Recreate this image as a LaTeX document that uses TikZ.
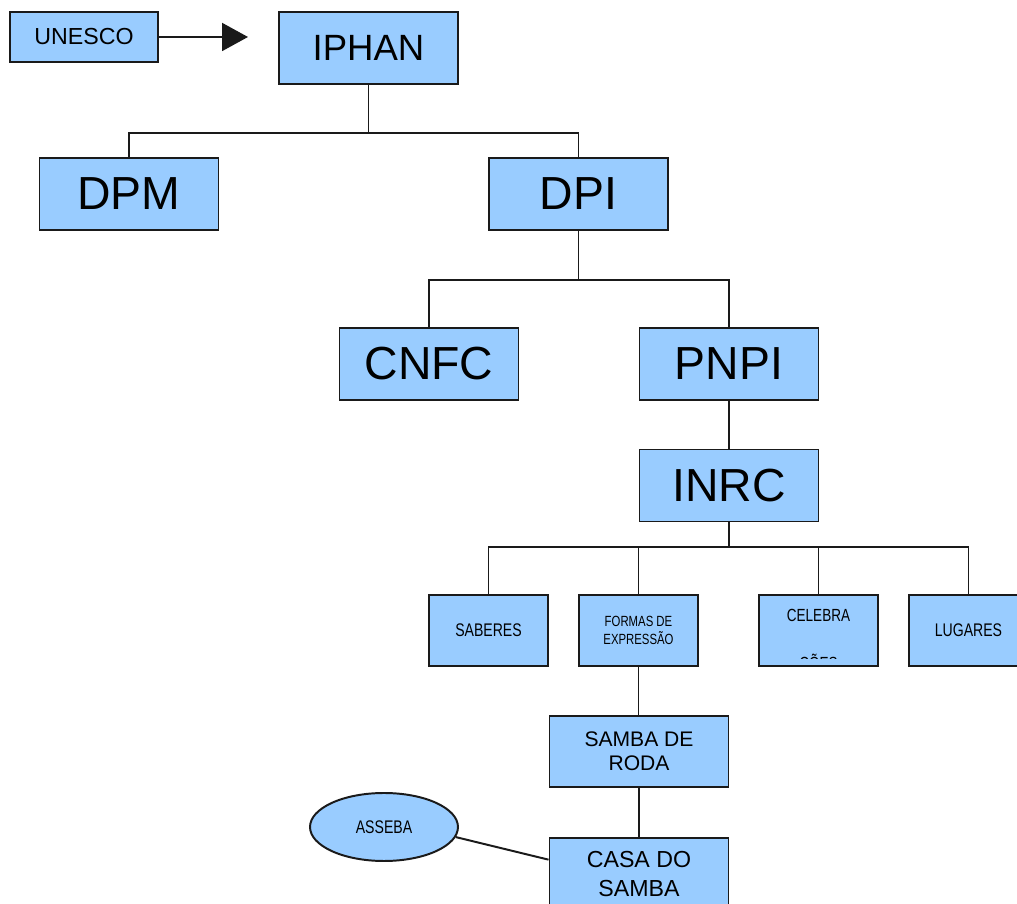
\documentclass[tikz,border=0pt]{standalone}
\usepackage{fontspec}
\setmainfont{Liberation Sans}
\newfontfamily\narrowfont[FakeStretch=0.77]{Liberation Sans}
\usepackage{tikz}
\usetikzlibrary{arrows.meta,shapes.geometric}
\definecolor{boxblue}{RGB}{153,204,255}
\definecolor{boxline}{RGB}{26,26,26}

\begin{document}
\begin{tikzpicture}[line width=1.4pt]
  \tikzstyle{unit}=[rectangle, draw=boxline, fill=boxblue, inner sep=0pt,
minimum width=4.475cm, minimum height=1.8cm, font=\fontsize{33}{40}\selectfont]
  \tikzstyle{subunit}=[unit, minimum width=2.975cm, minimum height=1.775cm,
font=\narrowfont\fontsize{13}{15}\selectfont]
  \tikzstyle{link}=[draw=boxline]
  \useasboundingbox (0,0) rectangle (25.425,22.6);

  \node[unit, minimum width=3.7cm, minimum height=1.25cm,
    font=\fontsize{16.5}{19}\selectfont] (UNESCO) at (2.1,21.675) {UNESCO};
  \coordinate (U_end) at (6.2,21.675);
  \draw[link, -{Triangle[length=0.65cm,width=0.7cm]}] (UNESCO) -- (U_end);

  \node[unit, font=\fontsize{26}{31}\selectfont] (IPHAN) at (9.2125,21.4) {IPHAN};
  \node[unit] (DPM) at (3.225,17.75) {DPM};
  \node[unit] (DPI) at (14.4625,17.75) {DPI};
  \coordinate (bus_1) at (9.2125,19.275);
  \draw[link] (IPHAN) -- (bus_1);
  \draw[link] (DPM.north) |- (bus_1) -| (DPI.north);

  \node[unit] (CNFC) at (10.725,13.5) {CNFC};
  \node[unit] (PNPI) at (18.225,13.5) {PNPI};
  \coordinate (bus_2) at (14.4625,15.6);
  \draw[link] (DPI) -- (bus_2);
  \draw[link] (CNFC.north) |- (bus_2) -| (PNPI.north);

  \node[unit] (INRC) at (18.225,10.4625) {INRC};
  \draw[link] (PNPI) -- (INRC);

  \node[subunit] (SAB) at (12.2125,6.8375) {SABERES};
  \node[subunit, align=center, font=\narrowfont\fontsize{10.5}{12.8}\selectfont]
    (FORM) at (15.9625,6.8375) {FORMAS DE\\EXPRESSÃO};
  \node[subunit] (CEL) at (20.4625,6.8375) {};
  \node[subunit] (LUG) at (24.2125,6.8375) {LUGARES};
  \node[anchor=base, inner sep=0pt, font=\narrowfont\fontsize{12.5}{15}\selectfont]
    (CEL_a) at (20.4625,7.05) {CELEBRA};
  \begin{scope}
    \clip (19.05,6.125) rectangle (21.9,6.5);
    \node[anchor=base, inner sep=0pt, font=\narrowfont\fontsize{12.5}{15}\selectfont]
      (CEL_b) at (20.4625,5.86) {ÇÕES};
  \end{scope}
  \coordinate (bus_3) at (18.225,8.925);
  \draw[link] (INRC) -- (bus_3);
  \draw[link] (SAB.north) |- (bus_3) -| (LUG.north);
  \draw[link] (FORM.north) -- (FORM.north |- bus_3);
  \draw[link] (CEL.north) -- (CEL.north |- bus_3);

  \node[unit, minimum height=1.775cm, align=center, font=\fontsize{15}{17}\selectfont]
    (SAMBA) at (15.975,3.8125) {SAMBA DE\\RODA};
  \draw[link] (FORM) -- (SAMBA.north -| FORM);
  \node[unit, align=center, font=\fontsize{16.5}{20}\selectfont]
    (CASA) at (15.975,0.75) {CASA DO\\SAMBA};
  \draw[link] (SAMBA) -- (CASA);

  \node[ellipse, draw=boxline, fill=boxblue, inner sep=0pt, minimum width=3.7cm,
    minimum height=1.7cm, font=\narrowfont\fontsize{13}{15}\selectfont]
    (ASSEBA) at (9.6,1.925) {ASSEBA};
  \draw[link] (ASSEBA.-8) -- (CASA.171);
\end{tikzpicture}
\end{document}
